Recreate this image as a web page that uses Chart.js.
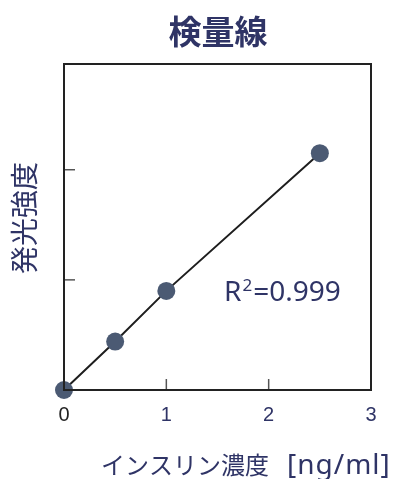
<!DOCTYPE html>
<html lang="ja">
<head>
<meta charset="UTF-8">
<title>検量線</title>
<script src="https://cdn.jsdelivr.net/npm/chart.js"></script>
<style>
  html, body { margin: 0; padding: 0; background: #fff; }
  #wrap { width: 393px; height: 479px; }
</style>
</head>
<body>
<div id="wrap"><canvas id="calib"></canvas></div>
<script>
// data
var concentrations = [0, 0.5, 1, 2.5];      // ng/ml
var intensities = [0, 0.44, 0.90, 2.15];     // arbitrary units
var xTickValues = [0, 1, 2, 3];
var yTickValues = [1, 2];
var titleText = '検量線';
var xTitle = ['インスリン濃度', '[ng/ml]'];
var yTitle = '発光強度';
var r2Text = ['R', '2', '=0.999'];

var navy = '#2f3466';
var cjk = '"Noto Sans CJK JP", "Noto Sans", sans-serif';

// box, inward tick marks and texts
var decor = {
  id: 'decor',
  afterDraw: function (chart) {
    var ctx = chart.ctx;
    var a = chart.chartArea;
    var xs = chart.scales.x, ys = chart.scales.y;
    ctx.save();

    // inward ticks
    ctx.strokeStyle = '#555';
    ctx.lineWidth = 1.5;
    xTickValues.forEach(function (v) {
      if (v === xs.min || v === xs.max) return;
      var px = xs.getPixelForValue(v);
      ctx.beginPath();
      ctx.moveTo(px, a.bottom);
      ctx.lineTo(px, a.bottom - 11);
      ctx.stroke();
    });
    yTickValues.forEach(function (v) {
      var py = ys.getPixelForValue(v);
      ctx.beginPath();
      ctx.moveTo(a.left, py);
      ctx.lineTo(a.left + 11, py);
      ctx.stroke();
    });

    // frame
    ctx.strokeStyle = '#222';
    ctx.lineWidth = 2;
    ctx.strokeRect(a.left, a.top, a.right - a.left, a.bottom - a.top);

    // title
    ctx.fillStyle = navy;
    ctx.textAlign = 'center';
    ctx.textBaseline = 'middle';
    ctx.font = 'bold 33px ' + cjk;
    ctx.fillText(titleText, 218, 31);

    // x title
    ctx.textAlign = 'left';
    ctx.textBaseline = 'alphabetic';
    ctx.font = '24px ' + cjk;
    var tx = 101;
    ctx.fillText(xTitle[0], tx, 474);
    tx += ctx.measureText(xTitle[0]).width + 18;
    ctx.font = '28px "Noto Sans", sans-serif';
    ctx.letterSpacing = '1px';
    ctx.fillText(xTitle[1], tx, 474);
    ctx.letterSpacing = '0px';

    // y title
    ctx.save();
    ctx.textAlign = 'center';
    ctx.textBaseline = 'middle';
    ctx.translate(24, 218);
    ctx.rotate(-Math.PI / 2);
    ctx.font = '28px ' + cjk;
    ctx.fillText(yTitle, 0, 0);
    ctx.restore();

    // R squared
    var x = 224, y = 301;
    ctx.font = '28px "Noto Sans", sans-serif';
    ctx.fillText(r2Text[0], x, y);
    x += ctx.measureText(r2Text[0]).width;
    ctx.font = '17px "Noto Sans", sans-serif';
    ctx.fillText(r2Text[1], x + 1, y - 10);
    x += ctx.measureText(r2Text[1]).width + 2;
    ctx.font = '28px "Noto Sans", sans-serif';
    ctx.fillText(r2Text[2], x, y);

    ctx.restore();
  }
};

new Chart(document.getElementById('calib'), {
  type: 'scatter',
  data: {
    datasets: [{
      data: concentrations.map(function (c, i) { return { x: c, y: intensities[i] }; }),
      showLine: true,
      borderColor: '#1e1e1e',
      borderWidth: 2,
      pointRadius: 9,
      pointHoverRadius: 9,
      pointBackgroundColor: '#4b5a73',
      pointBorderWidth: 0,
      clip: false
    }]
  },
  options: {
    responsive: true,
    maintainAspectRatio: false,
    animation: false,
    events: [],
    layout: { padding: { top: 64, right: 22, left: 0, bottom: 0 } },
    plugins: { legend: { display: false }, tooltip: { enabled: false } },
    scales: {
      x: {
        type: 'linear',
        min: 0,
        max: 3,
        afterBuildTicks: function (s) { s.ticks = xTickValues.map(function (v) { return { value: v }; }); },
        afterFit: function (s) { s.height = 89; },
        grid: { display: false, drawTicks: false },
        border: { display: false },
        ticks: {
          color: function (c) { return c.tick && c.tick.value === 0 ? '#222' : navy; },
          padding: 13,
          maxRotation: 0,
          font: { family: '"Liberation Sans", Arial, sans-serif', size: 20 }
        }
      },
      y: {
        type: 'linear',
        min: 0,
        max: 2.96,
        afterFit: function (s) { s.width = 64; },
        grid: { display: false, drawTicks: false },
        border: { display: false },
        ticks: { display: false }
      }
    }
  },
  plugins: [decor]
});
</script>
</body>
</html>
